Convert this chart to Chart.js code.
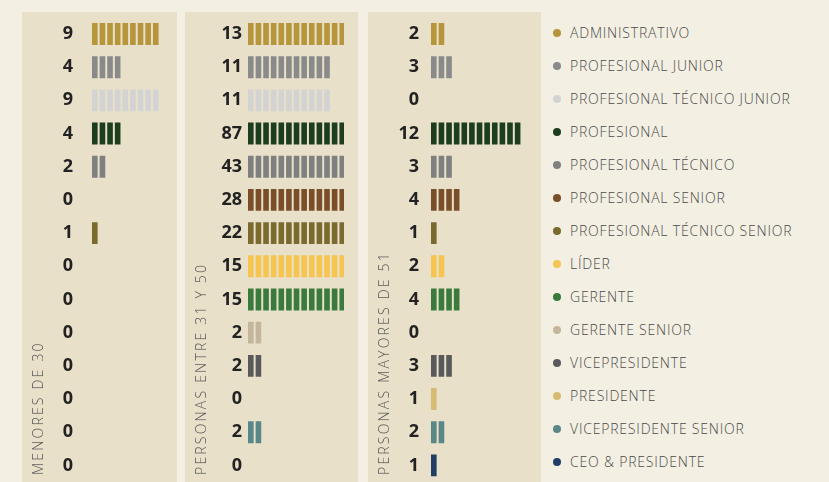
<!DOCTYPE html>
<html>
<head>
<meta charset="utf-8">
<script src="https://cdn.jsdelivr.net/npm/chart.js@4"></script>
<style>
  body { margin: 0; background: #f3efe2; width: 829px; height: 482px; overflow: hidden; position: relative; font-family: 'Open Sans', sans-serif; }
  .panel { position: absolute; top: 12px; height: 470px; background: #e8e0c9; }
  .chartbox { position: absolute; top: 12px; height: 470px; }
  .vlabel { position: absolute; top: 475px; white-space: nowrap; transform-origin: 0 0; transform: rotate(-90deg);
            font-size: 14px; line-height: 16px; letter-spacing: 2.2px; color: #555; font-weight: 300; }
  #legend { position: absolute; left: 552px; top: 16px; }
  .item { height: 33px; display: flex; align-items: center; font-size: 14px; font-weight: 300; letter-spacing: 0.8px; color: #4a4a4a; white-space: nowrap; }
  .dot { width: 8px; height: 8px; border-radius: 50%; margin-left: 1px; margin-right: 9px; }
</style>
</head>
<body>
<div id="legend"></div>
<script>
  // datos
  const categories = ['ADMINISTRATIVO', 'PROFESIONAL JUNIOR', 'PROFESIONAL TÉCNICO JUNIOR', 'PROFESIONAL',
    'PROFESIONAL TÉCNICO', 'PROFESIONAL SENIOR', 'PROFESIONAL TÉCNICO SENIOR', 'LÍDER', 'GERENTE',
    'GERENTE SENIOR', 'VICEPRESIDENTE', 'PRESIDENTE', 'VICEPRESIDENTE SENIOR', 'CEO & PRESIDENTE'];
  const menores30 = [9, 4, 9, 4, 2, 0, 1, 0, 0, 0, 0, 0, 0, 0];
  const entre31y50 = [13, 11, 11, 87, 43, 28, 22, 15, 15, 2, 2, 0, 2, 0];
  const mayores51 = [2, 3, 0, 12, 3, 4, 1, 2, 4, 0, 3, 1, 2, 1];
  const colors = ['#b7953a', '#8a8a8a', '#d3d3d3', '#1d3d1f', '#808080', '#7a4e28', '#7a6a2e',
    '#f5c550', '#3a7a3c', '#c4b59b', '#5a5a5c', '#d8bb72', '#5a8888', '#1f3f66'];
  const groupTitles = ['MENORES DE 30', 'PERSONAS ENTRE 31 Y 50', 'PERSONAS MAYORES DE 51'];

  const PANEL_BG = '#e8e0c9';
  const X_MAX = 12.6;     // la barra se corta al llegar al borde
  const BAR_AREA = 96;

  const panels = [
    { left: 22, width: 155, axisW: 70, pad: 19, values: menores30 },
    { left: 185, width: 173, axisW: 63, pad: 6, values: entre31y50 },
    { left: 368, width: 173, axisW: 63, pad: 12, values: mayores51 }
  ];

  // huecos entre las unidades de cada barra
  const segmentGaps = {
    id: 'segmentGaps',
    afterDatasetsDraw(chart) {
      const { ctx, chartArea, scales: { x } } = chart;
      const meta = chart.getDatasetMeta(0);
      const data = chart.data.datasets[0].data;
      ctx.save();
      ctx.fillStyle = PANEL_BG;
      meta.data.forEach((bar, i) => {
        const top = bar.y - bar.height / 2;
        for (let k = 1; k <= data[i]; k++) {
          const px = x.getPixelForValue(k);
          if (px > chartArea.right + 2) break;
          ctx.fillRect(px - 2, top - 1, k === data[i] ? 4 : 2, bar.height + 2);
        }
      });
      ctx.restore();
    }
  };

  panels.forEach((p, idx) => {
    const bg = document.createElement('div');
    bg.className = 'panel';
    bg.style.left = p.left + 'px';
    bg.style.width = p.width + 'px';
    document.body.appendChild(bg);

    const box = document.createElement('div');
    box.className = 'chartbox';
    box.style.left = p.left + 'px';
    const canvas = document.createElement('canvas');
    canvas.width = p.axisW + BAR_AREA;
    canvas.height = 470;
    box.appendChild(canvas);
    document.body.appendChild(box);

    const title = document.createElement('div');
    title.className = 'vlabel';
    title.textContent = groupTitles[idx];
    title.style.left = (p.left + 8) + 'px';
    document.body.appendChild(title);

    new Chart(canvas.getContext('2d'), {
      type: 'bar',
      data: {
        labels: categories,
        datasets: [{
          data: p.values,
          backgroundColor: colors,
          barPercentage: 0.66,
          categoryPercentage: 1
        }]
      },
      options: {
        indexAxis: 'y',
        responsive: false,
        animation: false,
        layout: { padding: { top: 5.4, bottom: 0, left: 0, right: 0 } },
        plugins: { legend: { display: false }, tooltip: { enabled: false } },
        scales: {
          x: { min: 0, max: X_MAX, display: false },
          y: {
            grid: { display: false, drawTicks: false },
            border: { display: false },
            afterFit: s => { s.width = p.axisW; s.paddingTop = 0; s.paddingBottom = 0; },
            ticks: {
              padding: p.pad,
              color: '#222',
              font: { family: 'Open Sans', weight: 'bold', size: 18 },
              callback: (v, i) => String(p.values[i])
            }
          }
        }
      },
      plugins: [segmentGaps]
    });
  });

  // leyenda
  const legend = document.getElementById('legend');
  categories.forEach((c, i) => {
    const item = document.createElement('div');
    item.className = 'item';
    item.innerHTML = '<span class="dot" style="background:' + colors[i] + '"></span>';
    item.appendChild(document.createTextNode(c));
    legend.appendChild(item);
  });
</script>
</body>
</html>
